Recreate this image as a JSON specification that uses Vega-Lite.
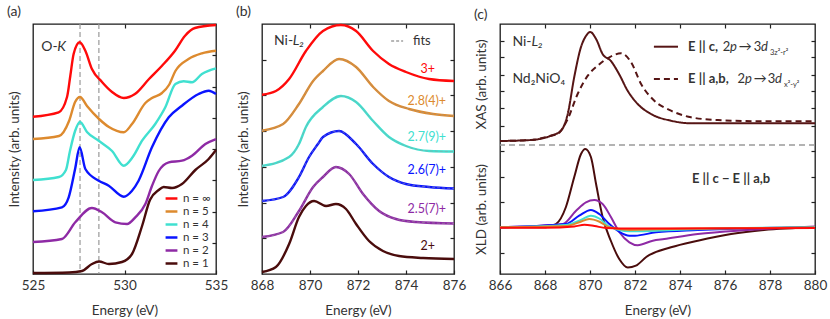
{
 "$schema":"https://vega.github.io/schema/vega-lite/v6.json",
 "background":"white",
 "padding":{"left":6,"top":4,"right":2,"bottom":2},
 "data":{"values":[{}]},
 "datasets":{
  "a":[
   {"n":"n = 1","E":525,"I":1},{"n":"n = 1","E":526.97,"I":1.5},{"n":"n = 1","E":527.68,"I":3},{"n":"n = 1","E":528.22,"I":10},{"n":"n = 1","E":528.61,"I":12.5},{"n":"n = 1","E":529.15,"I":10},{"n":"n = 1","E":529.86,"I":12},{"n":"n = 1","E":530.41,"I":20},{"n":"n = 1","E":530.96,"I":48},{"n":"n = 1","E":531.39,"I":74},{"n":"n = 1","E":531.87,"I":84},{"n":"n = 1","E":532.14,"I":87},{"n":"n = 1","E":532.6,"I":86},{"n":"n = 1","E":533.14,"I":90},{"n":"n = 1","E":533.87,"I":104},{"n":"n = 1","E":534.6,"I":115},{"n":"n = 1","E":535,"I":124},
   {"n":"n = 2","E":525,"I":32},{"n":"n = 2","E":526.58,"I":35},{"n":"n = 2","E":527.31,"I":51.7},{"n":"n = 2","E":528.22,"I":66},{"n":"n = 2","E":528.77,"I":61.7},{"n":"n = 2","E":529.5,"I":51.7},{"n":"n = 2","E":530.14,"I":50},{"n":"n = 2","E":530.59,"I":56.7},{"n":"n = 2","E":531.14,"I":70},{"n":"n = 2","E":531.5,"I":88},{"n":"n = 2","E":531.87,"I":103},{"n":"n = 2","E":532.42,"I":111.7},{"n":"n = 2","E":533.14,"I":113.3},{"n":"n = 2","E":533.69,"I":118.3},{"n":"n = 2","E":534.42,"I":130},{"n":"n = 2","E":535,"I":135},
   {"n":"n = 3","E":525,"I":62.7},{"n":"n = 3","E":526.58,"I":66.7},{"n":"n = 3","E":526.95,"I":76.7},{"n":"n = 3","E":527.3,"I":105},{"n":"n = 3","E":527.55,"I":126.7},{"n":"n = 3","E":527.86,"I":105},{"n":"n = 3","E":528.59,"I":93.3},{"n":"n = 3","E":529.14,"I":88.3},{"n":"n = 3","E":529.96,"I":77.3},{"n":"n = 3","E":530.4,"I":83},{"n":"n = 3","E":530.77,"I":93.3},{"n":"n = 3","E":531.5,"I":126.7},{"n":"n = 3","E":532.42,"I":156.7},{"n":"n = 3","E":533.14,"I":168.3},{"n":"n = 3","E":534.05,"I":180},{"n":"n = 3","E":534.6,"I":183.3},{"n":"n = 3","E":535,"I":180},
   {"n":"n = 4","E":525,"I":94},{"n":"n = 4","E":526.42,"I":97},{"n":"n = 4","E":526.8,"I":104},{"n":"n = 4","E":527.02,"I":123},{"n":"n = 4","E":527.3,"I":143},{"n":"n = 4","E":527.57,"I":152},{"n":"n = 4","E":527.95,"I":142},{"n":"n = 4","E":528.61,"I":133},{"n":"n = 4","E":529.32,"I":123},{"n":"n = 4","E":529.96,"I":108.3},{"n":"n = 4","E":530.45,"I":117},{"n":"n = 4","E":530.96,"I":133.3},{"n":"n = 4","E":531.68,"I":150},{"n":"n = 4","E":532.23,"I":166.7},{"n":"n = 4","E":532.78,"I":190},{"n":"n = 4","E":533.23,"I":192.7},{"n":"n = 4","E":533.69,"I":191.7},{"n":"n = 4","E":534.23,"I":200},{"n":"n = 4","E":535,"I":205.7},
   {"n":"n = 5","E":525,"I":135},{"n":"n = 5","E":526.42,"I":138},{"n":"n = 5","E":526.97,"I":153},{"n":"n = 5","E":527.3,"I":172},{"n":"n = 5","E":527.57,"I":177},{"n":"n = 5","E":527.95,"I":168},{"n":"n = 5","E":528.61,"I":155},{"n":"n = 5","E":529.15,"I":147},{"n":"n = 5","E":529.96,"I":141.7},{"n":"n = 5","E":530.41,"I":150},{"n":"n = 5","E":531.14,"I":171},{"n":"n = 5","E":531.5,"I":176},{"n":"n = 5","E":532.05,"I":181},{"n":"n = 5","E":532.43,"I":189},{"n":"n = 5","E":532.78,"I":203},{"n":"n = 5","E":533.5,"I":215},{"n":"n = 5","E":534.23,"I":220.7},{"n":"n = 5","E":535,"I":223.3},
   {"n":"n = ∞","E":525,"I":157.3},{"n":"n = ∞","E":526.4,"I":161.7},{"n":"n = ∞","E":526.86,"I":177},{"n":"n = ∞","E":527.04,"I":198.3},{"n":"n = ∞","E":527.22,"I":220},{"n":"n = ∞","E":527.55,"I":231.7},{"n":"n = ∞","E":527.86,"I":223.3},{"n":"n = ∞","E":528.22,"I":205},{"n":"n = ∞","E":528.77,"I":192},{"n":"n = ∞","E":529.32,"I":182},{"n":"n = ∞","E":529.96,"I":176},{"n":"n = ∞","E":530.57,"I":180},{"n":"n = ∞","E":531.34,"I":195},{"n":"n = ∞","E":532.05,"I":208.3},{"n":"n = ∞","E":532.76,"I":223.3},{"n":"n = ∞","E":533.31,"I":238.3},{"n":"n = ∞","E":533.85,"I":246},{"n":"n = ∞","E":535,"I":249}
  ],
  "b":[
   {"s":"2+","E":868,"I":2},{"s":"2+","E":868.58,"I":7},{"s":"2+","E":869.13,"I":30},{"s":"2+","E":869.54,"I":57},{"s":"2+","E":869.83,"I":68},{"s":"2+","E":870.17,"I":73},{"s":"2+","E":870.67,"I":68},{"s":"2+","E":871.08,"I":70},{"s":"2+","E":871.5,"I":65},{"s":"2+","E":871.92,"I":50},{"s":"2+","E":872.46,"I":33},{"s":"2+","E":873.04,"I":23},{"s":"2+","E":873.71,"I":18},{"s":"2+","E":874.71,"I":16},{"s":"2+","E":876,"I":15},
   {"s":"2.5(7)+","E":868,"I":37},{"s":"2.5(7)+","E":868.88,"I":42},{"s":"2.5(7)+","E":869.54,"I":63},{"s":"2.5(7)+","E":870.13,"I":87},{"s":"2.5(7)+","E":870.54,"I":97},{"s":"2.5(7)+","E":871.08,"I":107},{"s":"2.5(7)+","E":871.63,"I":100},{"s":"2.5(7)+","E":872.21,"I":80},{"s":"2.5(7)+","E":872.88,"I":63},{"s":"2.5(7)+","E":873.58,"I":55},{"s":"2.5(7)+","E":874.42,"I":52},{"s":"2.5(7)+","E":876,"I":50.5},
   {"s":"2.6(7)+","E":868,"I":73},{"s":"2.6(7)+","E":868.88,"I":77},{"s":"2.6(7)+","E":869.54,"I":97},{"s":"2.6(7)+","E":869.96,"I":117},{"s":"2.6(7)+","E":870.33,"I":130},{"s":"2.6(7)+","E":870.54,"I":137},{"s":"2.6(7)+","E":871.21,"I":143},{"s":"2.6(7)+","E":871.92,"I":130},{"s":"2.6(7)+","E":872.63,"I":110},{"s":"2.6(7)+","E":873.29,"I":97},{"s":"2.6(7)+","E":874,"I":90},{"s":"2.6(7)+","E":874.96,"I":87},{"s":"2.6(7)+","E":876,"I":85.5},
   {"s":"2.7(9)+","E":868,"I":108},{"s":"2.7(9)+","E":869.13,"I":117},{"s":"2.7(9)+","E":869.54,"I":130},{"s":"2.7(9)+","E":869.83,"I":147},{"s":"2.7(9)+","E":870.54,"I":167},{"s":"2.7(9)+","E":871.29,"I":178},{"s":"2.7(9)+","E":871.92,"I":172},{"s":"2.7(9)+","E":872.63,"I":153},{"s":"2.7(9)+","E":873.29,"I":137},{"s":"2.7(9)+","E":874,"I":128},{"s":"2.7(9)+","E":874.96,"I":123},{"s":"2.7(9)+","E":876,"I":122.5},
   {"s":"2.8(4)+","E":868,"I":143.3},{"s":"2.8(4)+","E":868.88,"I":150},{"s":"2.8(4)+","E":869.54,"I":170},{"s":"2.8(4)+","E":870.13,"I":193},{"s":"2.8(4)+","E":870.54,"I":203},{"s":"2.8(4)+","E":871.21,"I":215},{"s":"2.8(4)+","E":871.92,"I":207},{"s":"2.8(4)+","E":872.63,"I":187},{"s":"2.8(4)+","E":873.29,"I":173},{"s":"2.8(4)+","E":874.13,"I":165},{"s":"2.8(4)+","E":875.13,"I":160},{"s":"2.8(4)+","E":876,"I":158},
   {"s":"3+","E":868,"I":179.3},{"s":"3+","E":868.58,"I":183},{"s":"3+","E":869.13,"I":195},{"s":"3+","E":869.83,"I":223},{"s":"3+","E":870.54,"I":243},{"s":"3+","E":871.29,"I":249},{"s":"3+","E":871.92,"I":243},{"s":"3+","E":872.63,"I":223},{"s":"3+","E":873.29,"I":210},{"s":"3+","E":874,"I":202},{"s":"3+","E":874.96,"I":195},{"s":"3+","E":876,"I":193}
  ],
  "xas":[
   {"pol":"c","E":866,"I":133},{"pol":"c","E":867.38,"I":134},{"pol":"c","E":868.27,"I":138.3},{"pol":"c","E":868.71,"I":143.3},{"pol":"c","E":869.01,"I":160},{"pol":"c","E":869.3,"I":197},{"pol":"c","E":869.6,"I":227},{"pol":"c","E":869.82,"I":238},{"pol":"c","E":870.01,"I":242},{"pol":"c","E":870.27,"I":235},{"pol":"c","E":870.56,"I":220},{"pol":"c","E":870.93,"I":213},{"pol":"c","E":871.29,"I":200},{"pol":"c","E":871.68,"I":183},{"pol":"c","E":872.12,"I":170},{"pol":"c","E":872.71,"I":160},{"pol":"c","E":873.6,"I":153.3},{"pol":"c","E":874.49,"I":150.7},{"pol":"c","E":876.27,"I":150.7},{"pol":"c","E":880,"I":150.7},
   {"pol":"ab","E":866,"I":133},{"pol":"ab","E":867.38,"I":134},{"pol":"ab","E":868.27,"I":138.3},{"pol":"ab","E":868.56,"I":140},{"pol":"ab","E":869.01,"I":155},{"pol":"ab","E":869.45,"I":180},{"pol":"ab","E":869.9,"I":198.3},{"pol":"ab","E":870.34,"I":208.3},{"pol":"ab","E":870.86,"I":216.7},{"pol":"ab","E":871.38,"I":220.7},{"pol":"ab","E":871.82,"I":212},{"pol":"ab","E":872.27,"I":190},{"pol":"ab","E":872.86,"I":173.3},{"pol":"ab","E":873.6,"I":163.3},{"pol":"ab","E":874.49,"I":156.7},{"pol":"ab","E":875.68,"I":154},{"pol":"ab","E":877.73,"I":152.7},{"pol":"ab","E":880,"I":152.7}
  ],
  "xld":[
   {"n":"n = 1","E":866,"I":46.7},{"n":"n = 1","E":868.04,"I":46.7},{"n":"n = 1","E":868.49,"I":50},{"n":"n = 1","E":868.93,"I":67},{"n":"n = 1","E":869.3,"I":97},{"n":"n = 1","E":869.6,"I":120},{"n":"n = 1","E":869.79,"I":125},{"n":"n = 1","E":870.04,"I":117},{"n":"n = 1","E":870.27,"I":90},{"n":"n = 1","E":870.56,"I":57},{"n":"n = 1","E":870.93,"I":33},{"n":"n = 1","E":871.3,"I":15},{"n":"n = 1","E":871.68,"I":6.5},{"n":"n = 1","E":872.04,"I":8.3},{"n":"n = 1","E":872.5,"I":17},{"n":"n = 1","E":873.6,"I":26.7},{"n":"n = 1","E":874.79,"I":33.3},{"n":"n = 1","E":876.27,"I":40},{"n":"n = 1","E":877.73,"I":44},{"n":"n = 1","E":880,"I":46.7},
   {"n":"n = 2","E":866,"I":46.7},{"n":"n = 2","E":868.79,"I":50},{"n":"n = 2","E":869.38,"I":63.3},{"n":"n = 2","E":869.82,"I":71.7},{"n":"n = 2","E":870.19,"I":74},{"n":"n = 2","E":870.56,"I":70},{"n":"n = 2","E":870.93,"I":57},{"n":"n = 2","E":871.3,"I":42},{"n":"n = 2","E":871.75,"I":31.7},{"n":"n = 2","E":872.12,"I":28.8},{"n":"n = 2","E":872.79,"I":33.3},{"n":"n = 2","E":873.3,"I":35},{"n":"n = 2","E":874.79,"I":40},{"n":"n = 2","E":877.01,"I":44},{"n":"n = 2","E":880,"I":47.5},
   {"n":"n = 3","E":866,"I":46.7},{"n":"n = 3","E":868.93,"I":50},{"n":"n = 3","E":869.52,"I":58.3},{"n":"n = 3","E":870.04,"I":64},{"n":"n = 3","E":870.41,"I":60},{"n":"n = 3","E":870.86,"I":50},{"n":"n = 3","E":871.3,"I":42.3},{"n":"n = 3","E":871.75,"I":38.3},{"n":"n = 3","E":872,"I":38.3},{"n":"n = 3","E":872.93,"I":41.7},{"n":"n = 3","E":874.79,"I":44},{"n":"n = 3","E":880,"I":46.7},
   {"n":"n = 4","E":866,"I":46.7},{"n":"n = 4","E":868.93,"I":49},{"n":"n = 4","E":869.52,"I":53.3},{"n":"n = 4","E":870.04,"I":58.3},{"n":"n = 4","E":870.45,"I":55},{"n":"n = 4","E":870.86,"I":47.3},{"n":"n = 4","E":871.75,"I":42.7},{"n":"n = 4","E":872.93,"I":43.3},{"n":"n = 4","E":875,"I":45},{"n":"n = 4","E":880,"I":46.7},
   {"n":"n = 5","E":866,"I":46.7},{"n":"n = 5","E":868.93,"I":48},{"n":"n = 5","E":869.52,"I":51.7},{"n":"n = 5","E":869.97,"I":55},{"n":"n = 5","E":870.4,"I":52.5},{"n":"n = 5","E":870.86,"I":46.7},{"n":"n = 5","E":871.75,"I":44},{"n":"n = 5","E":872.93,"I":44.7},{"n":"n = 5","E":875,"I":45.5},{"n":"n = 5","E":880,"I":46.5},
   {"n":"n = ∞","E":866,"I":46.3},{"n":"n = ∞","E":868.04,"I":46.3},{"n":"n = ∞","E":869.3,"I":47.5},{"n":"n = ∞","E":869.75,"I":49.3},{"n":"n = ∞","E":870.2,"I":48},{"n":"n = ∞","E":870.71,"I":46},{"n":"n = ∞","E":872,"I":45.5},{"n":"n = ∞","E":880,"I":46}
  ]
 },
 "config":{
  "font":"Lato",
  "view":{"stroke":"#1a1a1a","strokeWidth":1.3},
  "axis":{"domain":false,"grid":false,"tickSize":-4,"tickWidth":1.2,"tickColor":"#222","labelFont":"Lato","labelFontSize":13.5,"labelColor":"#333","labelPadding":8,"labelFlush":false,"labelOverlap":false,"titleFont":"Lato","titleFontSize":13.5,"titleFontWeight":"normal","titleColor":"#333","titlePadding":12},
  "title":{"anchor":"start","frame":"bounds","fontSize":14,"fontWeight":"normal","color":"#333","offset":1,"font":"Lato"},
  "text":{"font":"Lato","color":"#333"}
 },
 "resolve":{"scale":{"color":"independent","strokeDash":"independent"},"legend":{"color":"independent","strokeDash":"independent"}},
 "spacing":6,
 "hconcat":[
  {
   "width":183,"height":250,
   "title":"(a)",
   "resolve":{"axis":{"x":"independent","y":"independent"}},
   "layer":[
    {"mark":{"type":"rule","strokeDash":[5,3],"color":"#9a9a9a","strokeWidth":1.2},"encoding":{"x":{"datum":527.57,"scale":{"domain":[525,535],"nice":false,"zero":false},"axis":null}}},
    {"mark":{"type":"rule","strokeDash":[5,3],"color":"#9a9a9a","strokeWidth":1.2},"encoding":{"x":{"datum":528.6,"scale":{"domain":[525,535],"nice":false,"zero":false},"axis":null}}},
    {"data":{"name":"a"},"mark":{"type":"line","interpolate":"monotone","strokeWidth":2.4},
     "encoding":{
      "x":{"field":"E","type":"quantitative","scale":{"domain":[525,535],"nice":false,"zero":false},"axis":{"orient":"bottom","values":[525,530,535],"title":"Energy (eV)"}},
      "y":{"field":"I","type":"quantitative","scale":{"domain":[0,250],"nice":false,"zero":false},"axis":{"orient":"left","labels":false,"ticks":false,"title":"Intensity (arb. units)"}},
      "color":{"field":"n","type":"nominal","scale":{"domain":["n = ∞","n = 5","n = 4","n = 3","n = 2","n = 1"],"range":["#ff0a0a","#dd8a2e","#40e0d0","#0a14ff","#8e2aa5","#4a0c0c"]},
       "legend":{"orient":"bottom-right","title":null,"symbolType":"stroke","symbolSize":140,"symbolStrokeWidth":2.5,"labelFontSize":11.5,"labelFont":"Lato","labelColor":"#333","rowPadding":0,"offset":5,"padding":0,"labelOffset":4}}
     }},
    {"data":{"name":"a"},"mark":{"type":"point","opacity":0},
     "encoding":{
      "x":{"field":"E","type":"quantitative","scale":{"domain":[525,535],"nice":false,"zero":false},"axis":{"orient":"top","values":[530],"labels":false,"title":null}},
      "y":{"field":"I","type":"quantitative","scale":{"domain":[0,250],"nice":false,"zero":false},"axis":{"orient":"right","values":[31.25,62.5,93.75,125,156.25,187.5,218.75],"labels":false,"title":null}}
     }},
    {"mark":{"type":"text","text":"O-","align":"left","baseline":"middle","fontSize":14},"encoding":{"x":{"datum":525.45,"scale":{"domain":[525,535],"nice":false,"zero":false},"axis":null},"y":{"datum":227,"scale":{"domain":[0,250],"nice":false,"zero":false},"axis":null}}},
    {"mark":{"type":"text","text":"K","align":"left","baseline":"middle","fontSize":14,"fontStyle":"italic"},"encoding":{"x":{"datum":526.33,"scale":{"domain":[525,535],"nice":false,"zero":false},"axis":null},"y":{"datum":227,"scale":{"domain":[0,250],"nice":false,"zero":false},"axis":null}}}
   ]
  },
  {
   "width":192,"height":250,
   "title":"(b)",
   "resolve":{"axis":{"x":"independent","y":"independent"}},
   "layer":[
    {"data":{"name":"b"},"mark":{"type":"line","interpolate":"monotone","strokeWidth":2.4},
     "encoding":{
      "x":{"field":"E","type":"quantitative","scale":{"domain":[868,876],"nice":false,"zero":false},"axis":{"orient":"bottom","values":[868,870,872,874,876],"title":"Energy (eV)"}},
      "y":{"field":"I","type":"quantitative","scale":{"domain":[0,250],"nice":false,"zero":false},"axis":{"orient":"left","labels":false,"ticks":false,"title":"Intensity (arb. units)"}},
      "color":{"field":"s","type":"nominal","scale":{"domain":["3+","2.8(4)+","2.7(9)+","2.6(7)+","2.5(7)+","2+"],"range":["#ff0a0a","#dd8a2e","#40e0d0","#0a14ff","#8e2aa5","#4a0c0c"]},"legend":null}
     }},
    {"data":{"name":"b"},"transform":[{"filter":{"field":"s","oneOf":["2.8(4)+","2.7(9)+","2.6(7)+","2.5(7)+"]}}],
     "mark":{"type":"line","interpolate":"monotone","strokeWidth":1,"strokeDash":[3,2],"color":"#9a9a9a","opacity":0.55},
     "encoding":{
      "x":{"field":"E","type":"quantitative","scale":{"domain":[868,876],"nice":false,"zero":false},"axis":null},
      "y":{"field":"I","type":"quantitative","scale":{"domain":[0,250],"nice":false,"zero":false},"axis":null},
      "detail":{"field":"s"}
     }},
    {"data":{"name":"b"},"mark":{"type":"point","opacity":0},
     "encoding":{
      "x":{"field":"E","type":"quantitative","scale":{"domain":[868,876],"nice":false,"zero":false},"axis":{"orient":"top","values":[870,872,874],"labels":false,"title":null}},
      "y":{"field":"I","type":"quantitative","scale":{"domain":[0,250],"nice":false,"zero":false},"axis":{"orient":"right","values":[35.7,71.4,107.1,142.9,178.6,214.3],"labels":false,"title":null}}
     }},
    {"data":{"name":"b"},"mark":{"type":"point","opacity":0},
     "encoding":{
      "x":{"field":"E","type":"quantitative","scale":{"domain":[868,876],"nice":false,"zero":false},"axis":null},
      "y":{"field":"I","type":"quantitative","scale":{"domain":[0,250],"nice":false,"zero":false},"axis":{"orient":"left","values":[35.7,71.4,107.1,142.9,178.6,214.3],"labels":false,"title":null}}
     }},
    {"mark":{"type":"text","text":"Ni-","align":"left","baseline":"middle","fontSize":14},"encoding":{"x":{"datum":868.5,"scale":{"domain":[868,876],"nice":false,"zero":false},"axis":null},"y":{"datum":233,"scale":{"domain":[0,250],"nice":false,"zero":false},"axis":null}}},
    {"mark":{"type":"text","text":"L₂","align":"left","baseline":"middle","fontSize":14,"fontStyle":"italic"},"encoding":{"x":{"datum":869.28,"scale":{"domain":[868,876],"nice":false,"zero":false},"axis":null},"y":{"datum":233,"scale":{"domain":[0,250],"nice":false,"zero":false},"axis":null}}},
    {"mark":{"type":"rule","strokeDash":[3,2],"color":"#a0a0a0","strokeWidth":1.3},"encoding":{"x":{"datum":873.38,"scale":{"domain":[868,876],"nice":false,"zero":false},"axis":null},"x2":{"datum":873.88},"y":{"datum":233,"scale":{"domain":[0,250],"nice":false,"zero":false},"axis":null}}},
    {"mark":{"type":"text","text":"fits","align":"left","baseline":"middle","fontSize":13},"encoding":{"x":{"datum":874.29,"scale":{"domain":[868,876],"nice":false,"zero":false},"axis":null},"y":{"datum":233,"scale":{"domain":[0,250],"nice":false,"zero":false},"axis":null}}},
    {"mark":{"type":"text","text":"3+","align":"right","baseline":"middle","fontSize":12.5,"color":"#ff0a0a"},"encoding":{"x":{"datum":875.21,"scale":{"domain":[868,876],"nice":false,"zero":false},"axis":null},"y":{"datum":205,"scale":{"domain":[0,250],"nice":false,"zero":false},"axis":null}}},
    {"mark":{"type":"text","text":"2.8(4)+","align":"right","baseline":"middle","fontSize":12.5,"color":"#dd8a2e"},"encoding":{"x":{"datum":875.67,"scale":{"domain":[868,876],"nice":false,"zero":false},"axis":null},"y":{"datum":173,"scale":{"domain":[0,250],"nice":false,"zero":false},"axis":null}}},
    {"mark":{"type":"text","text":"2.7(9)+","align":"right","baseline":"middle","fontSize":12.5,"color":"#40e0d0"},"encoding":{"x":{"datum":875.67,"scale":{"domain":[868,876],"nice":false,"zero":false},"axis":null},"y":{"datum":137,"scale":{"domain":[0,250],"nice":false,"zero":false},"axis":null}}},
    {"mark":{"type":"text","text":"2.6(7)+","align":"right","baseline":"middle","fontSize":12.5,"color":"#0a14ff"},"encoding":{"x":{"datum":875.67,"scale":{"domain":[868,876],"nice":false,"zero":false},"axis":null},"y":{"datum":104,"scale":{"domain":[0,250],"nice":false,"zero":false},"axis":null}}},
    {"mark":{"type":"text","text":"2.5(7)+","align":"right","baseline":"middle","fontSize":12.5,"color":"#8e2aa5"},"encoding":{"x":{"datum":875.67,"scale":{"domain":[868,876],"nice":false,"zero":false},"axis":null},"y":{"datum":65,"scale":{"domain":[0,250],"nice":false,"zero":false},"axis":null}}},
    {"mark":{"type":"text","text":"2+","align":"right","baseline":"middle","fontSize":12.5,"color":"#4a0c0c"},"encoding":{"x":{"datum":875.21,"scale":{"domain":[868,876],"nice":false,"zero":false},"axis":null},"y":{"datum":28,"scale":{"domain":[0,250],"nice":false,"zero":false},"axis":null}}}
   ]
  },
  {
   "width":315,"height":250,
   "title":"(c)",
   "resolve":{"axis":{"x":"independent","y":"independent"}},
   "layer":[
    {"mark":{"type":"rule","strokeDash":[6,4],"color":"#9a9a9a","strokeWidth":1.3},"encoding":{"y":{"datum":129,"scale":{"domain":[0,250],"nice":false,"zero":false},"axis":null}}},
    {"data":{"name":"xas"},"mark":{"type":"line","interpolate":"monotone","strokeWidth":2,"color":"#561515"},
     "encoding":{
      "x":{"field":"E","type":"quantitative","scale":{"domain":[866,880],"nice":false,"zero":false},"axis":{"orient":"bottom","values":[866,868,870,872,874,876,878,880],"title":"Energy (eV)"}},
      "y":{"field":"I","type":"quantitative","scale":{"domain":[0,250],"nice":false,"zero":false},"axis":{"orient":"left","labels":false,"ticks":false,"title":"XAS (arb. units)","titleY":60}},
      "strokeDash":{"field":"pol","type":"nominal","scale":{"domain":["c","ab"],"range":[[1,0],[6,4]]},"legend":null}
     }},
    {"data":{"name":"xld"},"mark":{"type":"line","interpolate":"monotone","strokeWidth":2},
     "encoding":{
      "x":{"field":"E","type":"quantitative","scale":{"domain":[866,880],"nice":false,"zero":false},"axis":null},
      "y":{"field":"I","type":"quantitative","scale":{"domain":[0,250],"nice":false,"zero":false},"axis":{"orient":"left","labels":false,"ticks":false,"title":"XLD (arb. units)","titleY":185}},
      "color":{"field":"n","type":"nominal","scale":{"domain":["n = 1","n = 2","n = 3","n = 4","n = 5","n = ∞"],"range":["#4a0c0c","#8e2aa5","#0a14ff","#40e0d0","#dd8a2e","#ff0a0a"]},"legend":null}
     }},
    {"data":{"name":"xas"},"mark":{"type":"point","opacity":0},
     "encoding":{
      "x":{"field":"E","type":"quantitative","scale":{"domain":[866,880],"nice":false,"zero":false},"axis":{"orient":"top","values":[868,870,872,874,876,878],"labels":false,"title":null}},
      "y":{"field":"I","type":"quantitative","scale":{"domain":[0,250],"nice":false,"zero":false},"axis":{"orient":"right","values":[233.3,216.7,199.3,182.7,166,148.3,123.3,97.3,72,46.7,20.7],"labels":false,"title":null}}
     }},
    {"data":{"name":"xas"},"mark":{"type":"point","opacity":0},
     "encoding":{
      "x":{"field":"E","type":"quantitative","scale":{"domain":[866,880],"nice":false,"zero":false},"axis":null},
      "y":{"field":"I","type":"quantitative","scale":{"domain":[0,250],"nice":false,"zero":false},"axis":{"orient":"left","values":[233.3,216.7,199.3,182.7,166,148.3,123.3,97.3,72,46.7,20.7],"labels":false,"title":null}}
     }},
    {"mark":{"type":"text","text":"Ni-","align":"left","baseline":"middle","fontSize":14},"encoding":{"x":{"datum":866.55,"scale":{"domain":[866,880],"nice":false,"zero":false},"axis":null},"y":{"datum":231.7,"scale":{"domain":[0,250],"nice":false,"zero":false},"axis":null}}},
    {"mark":{"type":"text","text":"L₂","align":"left","baseline":"middle","fontSize":14,"fontStyle":"italic"},"encoding":{"x":{"datum":867.4,"scale":{"domain":[866,880],"nice":false,"zero":false},"axis":null},"y":{"datum":231.7,"scale":{"domain":[0,250],"nice":false,"zero":false},"axis":null}}},
    {"mark":{"type":"text","text":"Nd₂NiO₄","align":"left","baseline":"middle","fontSize":14},"encoding":{"x":{"datum":866.55,"scale":{"domain":[866,880],"nice":false,"zero":false},"axis":null},"y":{"datum":195,"scale":{"domain":[0,250],"nice":false,"zero":false},"axis":null}}},
    {"mark":{"type":"rule","color":"#561515","strokeWidth":2},"encoding":{"x":{"datum":872.84,"scale":{"domain":[866,880],"nice":false,"zero":false},"axis":null},"x2":{"datum":873.91},"y":{"datum":227.3,"scale":{"domain":[0,250],"nice":false,"zero":false},"axis":null}}},
    {"mark":{"type":"rule","color":"#561515","strokeWidth":2,"strokeDash":[6,4]},"encoding":{"x":{"datum":872.84,"scale":{"domain":[866,880],"nice":false,"zero":false},"axis":null},"x2":{"datum":873.91},"y":{"datum":195,"scale":{"domain":[0,250],"nice":false,"zero":false},"axis":null}}},
    {"mark":{"type":"text","text":"E || c,","align":"left","baseline":"middle","fontSize":13,"fontWeight":"bold"},"encoding":{"x":{"datum":874.36,"scale":{"domain":[866,880],"nice":false,"zero":false},"axis":null},"y":{"datum":227.3,"scale":{"domain":[0,250],"nice":false,"zero":false},"axis":null}}},
    {"mark":{"type":"text","text":"2","align":"left","baseline":"middle","fontSize":13},"encoding":{"x":{"datum":875.9,"scale":{"domain":[866,880],"nice":false,"zero":false},"axis":null},"y":{"datum":227.3,"scale":{"domain":[0,250],"nice":false,"zero":false},"axis":null}}},
    {"mark":{"type":"text","text":"p","align":"left","baseline":"middle","fontSize":13,"fontStyle":"italic"},"encoding":{"x":{"datum":876.22,"scale":{"domain":[866,880],"nice":false,"zero":false},"axis":null},"y":{"datum":227.3,"scale":{"domain":[0,250],"nice":false,"zero":false},"axis":null}}},
    {"mark":{"type":"text","text":"→","align":"left","baseline":"middle","fontSize":13},"encoding":{"x":{"datum":876.61,"scale":{"domain":[866,880],"nice":false,"zero":false},"axis":null},"y":{"datum":227.3,"scale":{"domain":[0,250],"nice":false,"zero":false},"axis":null}}},
    {"mark":{"type":"text","text":"3","align":"left","baseline":"middle","fontSize":13},"encoding":{"x":{"datum":877.28,"scale":{"domain":[866,880],"nice":false,"zero":false},"axis":null},"y":{"datum":227.3,"scale":{"domain":[0,250],"nice":false,"zero":false},"axis":null}}},
    {"mark":{"type":"text","text":"d","align":"left","baseline":"middle","fontSize":13,"fontStyle":"italic"},"encoding":{"x":{"datum":877.6,"scale":{"domain":[866,880],"nice":false,"zero":false},"axis":null},"y":{"datum":227.3,"scale":{"domain":[0,250],"nice":false,"zero":false},"axis":null}}},
    {"mark":{"type":"text","text":"3z²-r²","align":"left","baseline":"middle","fontSize":7.5},"encoding":{"x":{"datum":878.0,"scale":{"domain":[866,880],"nice":false,"zero":false},"axis":null},"y":{"datum":221.5,"scale":{"domain":[0,250],"nice":false,"zero":false},"axis":null}}},
    {"mark":{"type":"text","text":"E || a,b,","align":"left","baseline":"middle","fontSize":13,"fontWeight":"bold"},"encoding":{"x":{"datum":874.36,"scale":{"domain":[866,880],"nice":false,"zero":false},"axis":null},"y":{"datum":195,"scale":{"domain":[0,250],"nice":false,"zero":false},"axis":null}}},
    {"mark":{"type":"text","text":"2","align":"left","baseline":"middle","fontSize":13},"encoding":{"x":{"datum":876.56,"scale":{"domain":[866,880],"nice":false,"zero":false},"axis":null},"y":{"datum":195,"scale":{"domain":[0,250],"nice":false,"zero":false},"axis":null}}},
    {"mark":{"type":"text","text":"p","align":"left","baseline":"middle","fontSize":13,"fontStyle":"italic"},"encoding":{"x":{"datum":876.89,"scale":{"domain":[866,880],"nice":false,"zero":false},"axis":null},"y":{"datum":195,"scale":{"domain":[0,250],"nice":false,"zero":false},"axis":null}}},
    {"mark":{"type":"text","text":"→","align":"left","baseline":"middle","fontSize":13},"encoding":{"x":{"datum":877.28,"scale":{"domain":[866,880],"nice":false,"zero":false},"axis":null},"y":{"datum":195,"scale":{"domain":[0,250],"nice":false,"zero":false},"axis":null}}},
    {"mark":{"type":"text","text":"3","align":"left","baseline":"middle","fontSize":13},"encoding":{"x":{"datum":877.9,"scale":{"domain":[866,880],"nice":false,"zero":false},"axis":null},"y":{"datum":195,"scale":{"domain":[0,250],"nice":false,"zero":false},"axis":null}}},
    {"mark":{"type":"text","text":"d","align":"left","baseline":"middle","fontSize":13,"fontStyle":"italic"},"encoding":{"x":{"datum":878.22,"scale":{"domain":[866,880],"nice":false,"zero":false},"axis":null},"y":{"datum":195,"scale":{"domain":[0,250],"nice":false,"zero":false},"axis":null}}},
    {"mark":{"type":"text","text":"x²-y²","align":"left","baseline":"middle","fontSize":7.5},"encoding":{"x":{"datum":878.62,"scale":{"domain":[866,880],"nice":false,"zero":false},"axis":null},"y":{"datum":189.5,"scale":{"domain":[0,250],"nice":false,"zero":false},"axis":null}}},
    {"mark":{"type":"text","text":"E || c − E || a,b","align":"center","baseline":"middle","fontSize":13,"fontWeight":"bold"},"encoding":{"x":{"datum":876.27,"scale":{"domain":[866,880],"nice":false,"zero":false},"axis":null},"y":{"datum":95,"scale":{"domain":[0,250],"nice":false,"zero":false},"axis":null}}}
   ]
  }
 ]
}
